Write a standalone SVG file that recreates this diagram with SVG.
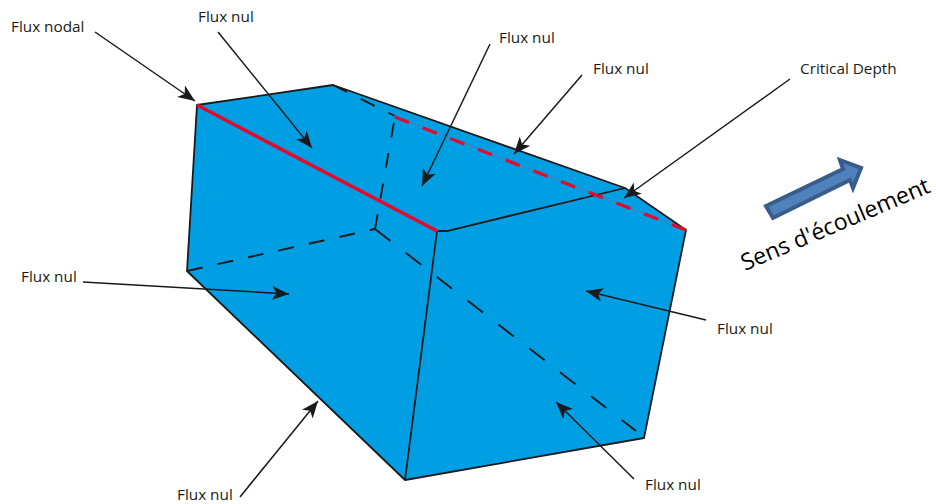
<svg xmlns="http://www.w3.org/2000/svg" width="936" height="504" viewBox="0 0 936 504">
<style>
text{font-family:"Open Sans","Noto Sans",sans-serif;font-size:15.3px;fill:#1a1a1a}
.e{fill:none;stroke:#1a1a1a;stroke-width:1.8}
.d{fill:none;stroke:#1a1a1a;stroke-width:1.9}
.r{fill:none;stroke:#e30a2c}
.a{fill:none;stroke:#1a1a1a;stroke-width:1.5;marker-end:url(#h)}
</style>
<defs>
<marker id="h" markerUnits="userSpaceOnUse" markerWidth="18" markerHeight="16" refX="17" refY="8" orient="auto">
<path d="M0 1L17 8L0 15L4.5 8Z" fill="#1a1a1a"/>
</marker>
</defs>
<rect width="936" height="504" fill="#fff"/>
<g id="solid">
<path d="M197 105L333 85L625 188L686 230L644 438L405 480L187 271Z" fill="#009fe3" stroke="#1a1a1a" stroke-width="1.8" stroke-linejoin="round"/>
<path class="e" d="M438 231L447 231L625 188"/>
<path class="e" d="M437 231L405 480"/>
</g>
<g id="hidden">
<path class="d" stroke-dasharray="16 15.2" d="M187 271L375 229"/>
<path class="d" stroke-dasharray="19.5 19.5" d="M375 229L636 431"/>
<path class="d" stroke-dasharray="15 16" d="M375 229L394 122"/>
<path class="d" stroke-dasharray="15.5 15.5" d="M333 85L395 116"/>
<path fill="none" stroke="#7a6a9a" stroke-width="0.8" d="M394 116L686 230"/>
<path class="r" stroke-width="3.3" stroke-dasharray="15 14.7" d="M395 117L686 230"/>
<path class="r" stroke-width="3.6" d="M197 105L437 231"/>
</g>
<g id="connectors">
<path class="a" d="M95 32L195 101"/>
<path class="a" d="M218 32L312 148"/>
<path class="a" d="M490 44L422 186"/>
<path class="a" d="M582 75L514 154"/>
<path class="a" d="M790 79L624 198"/>
<path class="a" d="M83 282L289 294"/>
<path class="a" d="M706 320L586 291"/>
<path class="a" d="M634 479L556 402"/>
<path class="a" d="M240 497L318 401"/>
</g>
<g id="labels">
<text x="11" y="32">Flux nodal</text>
<text x="198" y="22">Flux nul</text>
<text x="499" y="43">Flux nul</text>
<text x="593" y="74">Flux nul</text>
<text x="800" y="74">Critical Depth</text>
<text x="21" y="282">Flux nul</text>
<text x="717" y="334">Flux nul</text>
<text x="645" y="490">Flux nul</text>
<text x="177" y="500">Flux nul</text>
</g>
<g id="flow">
<path d="M766 206L843 169L840 160L861 168L853 188L850 180L773 218Z" fill="#4f81bd" stroke="#385d8a" stroke-width="4"/>
<text transform="translate(745 271) rotate(-23)" style="font-size:23px;fill:#000">Sens d'écoulement</text>
</g>
</svg>
